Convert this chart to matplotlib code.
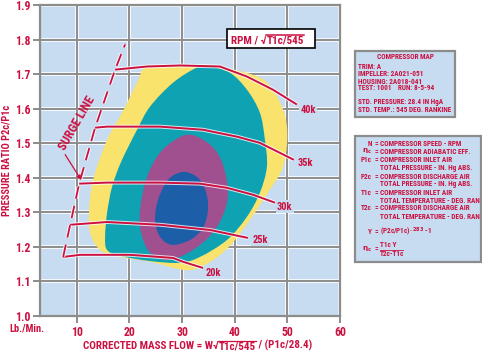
"""Compressor map: efficiency islands, speed lines and surge line, with two info boxes."""
import matplotlib
matplotlib.use("Agg")
import matplotlib.pyplot as plt
import matplotlib.patheffects as pe
from matplotlib.path import Path
from matplotlib.patches import PathPatch, Rectangle
import numpy as np

FONT = ["Liberation Sans Narrow", "Roboto Condensed", "DejaVu Sans"]
plt.rcParams["font.family"] = FONT
plt.rcParams["font.weight"] = "bold"
plt.rcParams["mathtext.fontset"] = "custom"
for k in ("rm", "it", "bf", "sf"):
    plt.rcParams[f"mathtext.{k}"] = "Liberation Sans Narrow:bold"

RED = "#cc1040"
BG = "#c7dcf0"
GRID = "#8c8c8c"

# axes
x_ticks = [10, 20, 30, 40, 50, 60]
y_ticks = [1.0, 1.1, 1.2, 1.3, 1.4, 1.5, 1.6, 1.7, 1.8, 1.9]

# efficiency islands (outlines)
yellow_x = [23.34, 29.60, 36.62, 44.78, 48.01, 49.72, 49.91, 48.96, 46.30, 42.88, 38.71,
            34.35, 30.55, 23.91, 18.22, 14.42, 12.52, 12.33, 13.09, 15.75, 18.60, 21.44]
yellow_y = [1.722, 1.725, 1.722, 1.690, 1.635, 1.568, 1.496, 1.423, 1.357, 1.278, 1.197,
            1.148, 1.133, 1.157, 1.171, 1.191, 1.241, 1.307, 1.394, 1.510, 1.588, 1.675]
teal_x = [35.29, 39.09, 42.31, 44.78, 45.73, 46.11, 44.78, 42.31, 38.52, 33.40, 29.60,
          23.91, 18.22, 15.75, 15.37, 15.75, 16.70, 18.41, 21.44, 23.91, 28.27, 32.83]
teal_y = [1.722, 1.704, 1.655, 1.588, 1.510, 1.432, 1.357, 1.287, 1.220, 1.171, 1.154,
          1.159, 1.174, 1.191, 1.229, 1.299, 1.374, 1.446, 1.539, 1.606, 1.675, 1.719]
purple_x = [31.50, 35.29, 37.57, 38.71, 37.95, 35.48, 31.50, 27.32, 23.91, 22.20, 22.01,
            23.15, 25.24, 28.08]
purple_y = [1.525, 1.496, 1.446, 1.365, 1.299, 1.235, 1.186, 1.162, 1.183, 1.241, 1.307,
            1.394, 1.461, 1.504]
blue_x = [30.17, 33.02, 34.54, 34.91, 33.97, 31.50, 28.08, 25.81, 24.86, 25.43, 27.32]
blue_y = [1.417, 1.400, 1.359, 1.307, 1.255, 1.220, 1.206, 1.229, 1.278, 1.336, 1.394]

# corrected speed lines
flow_40k = [17.27, 23.34, 29.60, 37.19, 42.31, 47.25, 51.80]
pr_40k = [1.713, 1.722, 1.725, 1.722, 1.693, 1.655, 1.612]
flow_35k = [13.47, 15.75, 25.81, 33.97, 40.42, 44.78, 51.23]
pr_35k = [1.545, 1.548, 1.548, 1.539, 1.519, 1.501, 1.452]
flow_30k = [10.44, 15.75, 25.81, 33.40, 38.52, 43.45, 47.63]
pr_30k = [1.383, 1.386, 1.386, 1.383, 1.371, 1.351, 1.328]
flow_25k = [8.73, 15.75, 25.81, 35.29, 42.50]
pr_25k = [1.264, 1.272, 1.264, 1.249, 1.226]
flow_20k = [7.40, 10.63, 20.11, 28.27, 30.17, 33.97]
pr_20k = [1.171, 1.177, 1.177, 1.168, 1.157, 1.139]
speed_names = ["40k", "35k", "30k", "25k", "20k"]
speed_label_x = [53.9, 53.5, 49.5, 44.8, 35.9]
speed_label_y = [1.597, 1.443, 1.316, 1.220, 1.125]

# surge line
surge_x = [7.40, 8.73, 10.44, 13.47, 17.27, 19.17]
surge_y = [1.171, 1.264, 1.383, 1.545, 1.713, 1.786]


def smooth_closed(xs, ys):
    """Closed Catmull-Rom outline turned into a cubic Bezier path."""
    p = np.column_stack([xs, ys])
    n = len(p)
    verts, codes = [p[0]], [Path.MOVETO]
    for i in range(n):
        p0, p1, p2, p3 = p[i - 1], p[i], p[(i + 1) % n], p[(i + 2) % n]
        verts += [p1 + (p2 - p0) / 6, p2 - (p3 - p1) / 6, p2]
        codes += [Path.CURVE4] * 3
    verts.append(p[0]); codes.append(Path.CLOSEPOLY)
    return Path(verts, codes)


W, H = 482, 356
fig = plt.figure(figsize=(W / 100, H / 100), dpi=100)
fx = lambda px: px / W
fy = lambda py: 1 - py / H
renderer = fig.canvas.get_renderer()


def chain_text(x_px, base_px, parts, over, fontsize):
    """Write text pieces one after another on a baseline; overline the piece with index `over`."""
    x = x_px
    for i, s in enumerate(parts):
        t = fig.text(fx(x), fy(base_px), s, color=RED, fontsize=fontsize, ha="left", va="baseline")
        bb = t.get_window_extent(renderer)
        if i == over:
            top = base_px - fontsize * 1.389 * 0.76
            fig.lines.append(plt.Line2D([fx(x - 0.5), fx(x + bb.width + 0.5)], [fy(top), fy(top)],
                                        transform=fig.transFigure, color=RED,
                                        lw=0.9 if fontsize < 7.95 else 1.1))
        x += bb.width


ax = fig.add_axes([fx(40), fy(316), (340 - 40) / W, (316 - 5) / H])
ax.set_facecolor(BG)
ax.set_xlim(3, 60)
ax.set_ylim(1.0, 1.9)

for x in x_ticks:
    ax.axvline(x, color="white", lw=2.6, zorder=1)
    ax.axvline(x, color=GRID, lw=1.4, zorder=1.1)
for y in y_ticks[1:]:
    ax.axhline(y, color="white", lw=2.6, zorder=1)
    ax.axhline(y, color=GRID, lw=1.4, zorder=1.1)

for xs, ys, c in [(yellow_x, yellow_y, "#f9e36c"), (teal_x, teal_y, "#0ea2b2"),
                  (purple_x, purple_y, "#a0508f"), (blue_x, blue_y, "#1c5fa8")]:
    ax.add_patch(PathPatch(smooth_closed(xs, ys), facecolor=c, edgecolor="none", zorder=2))

halo = [pe.Stroke(linewidth=2.8, foreground="white", alpha=0.8), pe.Normal()]
for xs, ys in [(flow_40k, pr_40k), (flow_35k, pr_35k), (flow_30k, pr_30k),
               (flow_25k, pr_25k), (flow_20k, pr_20k)]:
    ax.plot(xs, ys, color=RED, lw=1.4, zorder=3, path_effects=halo, solid_capstyle="butt")
for name, lx, ly in zip(speed_names, speed_label_x, speed_label_y):
    ax.text(lx, ly, name, color=RED, fontsize=7.5, ha="center", va="center", zorder=4,
            bbox=dict(facecolor=BG, edgecolor="none", pad=1))

ax.plot(surge_x, surge_y, color=RED, lw=1.3, dashes=(7, 4), zorder=3, path_effects=halo)
ax.text(10.0, 1.557, "SURGE LINE", color=RED, fontsize=9, rotation=60,
        ha="center", va="center", zorder=4)
ax.annotate("", xy=(10.82, 1.394), xytext=(7.78, 1.467), zorder=4,
            arrowprops=dict(arrowstyle="-|>", color=RED, lw=0.9, mutation_scale=6,
                            shrinkA=0, shrinkB=0))

ax.set_xticks(x_ticks)
ax.set_yticks(y_ticks)
ax.set_xticklabels([str(v) for v in x_ticks])
ax.set_yticklabels([f"{v:.1f}" for v in y_ticks])
ax.tick_params(length=5, width=1.4, color=GRID, labelcolor=RED, labelsize=8.5, pad=2)
for s in ax.spines.values():
    s.set_color(GRID); s.set_linewidth(1.6)

# speed-parameter title box
fig.patches.append(Rectangle((fx(227), fy(48)), fx(315 - 227), (48 - 29) / H,
                             transform=fig.transFigure, facecolor="white",
                             edgecolor="black", lw=1.2))
chain_text(231, 43.0, ["RPM / \u221a", "T1c/545"], 1, 8.0)

fig.text(fx(7), fy(160), "PRESSURE RATIO P2c/P1c", color=RED, fontsize=7.5,
         rotation=90, ha="center", va="center")
chain_text(83, 349, ["CORRECTED MASS FLOW = W\u221a", "T1c/545", " / (P1c/28.4)"], 1, 7.9)
fig.text(fx(27), fy(329), "Lb./Min.", color=RED, fontsize=7.5, ha="center", va="center")

# info boxes
for x0, y0, x1, y1 in [(355, 51, 455, 117), (355, 136, 481, 262)]:
    fig.patches.append(Rectangle((fx(x0), fy(y1)), fx(x1 - x0), (y1 - y0) / H,
                                 transform=fig.transFigure, facecolor=BG,
                                 edgecolor=GRID, lw=1.6))
fs = 5.2
fig.text(fx(405), fy(57.3), "COMPRESSOR MAP", color=RED, fontsize=fs, ha="center", va="center")
for py, line in [(66.7, "TRIM: A"), (74.3, "IMPELLER: 2A021-051"), (82, "HOUSING: 2A018-041"),
                 (88.5, "TEST: 1001"), (102.3, "STD. PRESSURE: 28.4 IN HgA"),
                 (109.5, "STD. TEMP.: 545 DEG. RANKINE")]:
    fig.text(fx(358), fy(py), line, color=RED, fontsize=fs, va="center")
fig.text(fx(398), fy(88.5), "RUN: 8-5-94", color=RED, fontsize=fs, va="center")

legend_rows = [(144.3, "N", "COMPRESSOR SPEED - RPM"),
               (151.7, r"$\eta_c$", "COMPRESSOR ADIABATIC EFF."),
               (160, "P1c", "COMPRESSOR INLET AIR"),
               (168.5, "", "TOTAL PRESSURE - IN. Hg ABS."),
               (176.7, "P2c", "COMPRESSOR DISCHARGE AIR"),
               (184.5, "", "TOTAL PRESSURE - IN. Hg ABS."),
               (192.7, "T1c", "COMPRESSOR INLET AIR"),
               (200.7, "", "TOTAL TEMPERATURE - DEG. RAN"),
               (208.3, "T2c", "COMPRESSOR DISCHARGE AIR"),
               (216.7, "", "TOTAL TEMPERATURE - DEG. RAN")]
for py, sym, desc in legend_rows:
    if sym:
        fig.text(fx(372), fy(py), sym, color=RED, fontsize=fs, ha="right", va="center")
        fig.text(fx(376), fy(py), "=", color=RED, fontsize=fs, ha="center", va="center")
    fig.text(fx(380), fy(py), desc, color=RED, fontsize=fs, va="center")
fig.text(fx(372), fy(231.7), "Y", color=RED, fontsize=fs, ha="right", va="center")
fig.text(fx(376), fy(231.7), "=", color=RED, fontsize=fs, ha="center", va="center")
fig.text(fx(380), fy(231.7), r"(P2c/P1c)$^{.283}$ -1", color=RED, fontsize=fs, va="center")
fig.text(fx(372), fy(249), r"$\eta_c$", color=RED, fontsize=fs, ha="right", va="center")
fig.text(fx(376), fy(249), "=", color=RED, fontsize=fs, ha="center", va="center")
fig.text(fx(380), fy(245), "T1c Y", color=RED, fontsize=fs, va="center")
fig.text(fx(380), fy(254), "T2c-T1c", color=RED, fontsize=fs, va="center")
fig.lines.append(plt.Line2D([fx(380), fx(403)], [fy(249.5), fy(249.5)],
                            transform=fig.transFigure, color=RED, lw=0.6))

fig.savefig("out.png", dpi=100, facecolor="white")
